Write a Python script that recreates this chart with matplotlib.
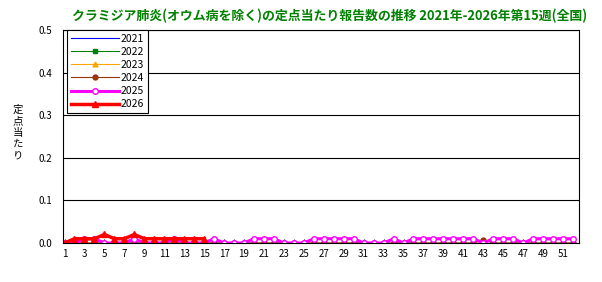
import numpy as np
import matplotlib.pyplot as plt

plt.rcParams['font.family'] = ['Noto Sans CJK JP', 'DejaVu Sans']

weeks = list(range(1, 53))
w2021 = [0.0] * 52
w2022 = [0.0] * 52
w2023 = [0.0] * 52
w2024 = [0.0] * 42 + [0.008] + [0.0] * 9
w2025 = [0, 0, .01, .01, 0, 0, 0, .01, 0, 0, 0, .01, 0, 0, 0, .01, 0, 0, 0, .01,
         .01, .01, 0, 0, 0, .01, .01, .01, .01, .01, 0, 0, 0, .01, 0, .01, .01, .01, .01, .01,
         .01, .01, 0, .01, .01, .01, 0, .01, .01, .01, .01, .01]
w2026 = [0, .01, .01, .01, .02, .01, .01, .02, .01, .01, .01, .01, .01, .01, .01]

fig = plt.figure(figsize=(6.02, 2.82), dpi=100)
ax = fig.add_axes([0.1047, 0.1383, 0.8571, 0.7553])

ax.plot(weeks, w2021, color='#0000FF', lw=0.8, label='2021')
ax.plot(weeks, w2022, color='#008000', lw=0.8, marker='s', ms=3, label='2022')
ax.plot(weeks, w2023, color='#FFA500', lw=0.8, marker='^', ms=3.5, label='2023')
ax.plot(weeks, w2024, color='#993300', lw=0.8, marker='o', ms=3.5, label='2024')
ax.plot(weeks, w2025, color='#FF00FF', lw=2.2, marker='o', ms=4, mfc='white',
        mec='#FF00FF', mew=1, label='2025')
ax.plot(weeks[:len(w2026)], w2026, color='#FF0000', lw=2.5, marker='^', ms=4,
        label='2026')

ax.set_xlim(0.85, 52.6)
ax.set_ylim(0, 0.5)
ax.set_yticks(np.arange(0, 0.51, 0.1))
ax.set_yticklabels(['%.1f' % v for v in np.arange(0, 0.51, 0.1)], fontsize=7)
ax.set_xticks(range(1, 53, 2))
ax.set_xticklabels([str(i) for i in range(1, 53, 2)], fontsize=7)
ax.set_xticks(range(1, 53), minor=True)
ax.tick_params(axis='x', which='both', direction='in', length=3, pad=4)
ax.tick_params(axis='y', length=0, pad=8)
ax.grid(axis='y', color='black', lw=0.8)
for s in ax.spines.values():
    s.set_color('black')
    s.set_linewidth(0.8)

leg = ax.legend(loc='upper left', bbox_to_anchor=(0.008, 1.0), borderaxespad=0,
                fontsize=7.5, frameon=True, fancybox=False, edgecolor='black',
                framealpha=1, handlelength=4.6, labelspacing=0.3, borderpad=0.35,
                handletextpad=0.2)
leg.get_frame().set_linewidth(0.8)

# stacked vertical label
for i, ch in enumerate('定点当たり'):
    fig.text(0.030, 0.61 - i * 0.04, ch, fontsize=7.5, ha='center', va='center')

fig.text(0.548, 0.945, 'クラミジア肺炎(オウム病を除く)の定点当たり報告数の推移 2021年-2026年第15週(全国)',
         color='#008000', fontsize=9.3, fontweight='bold', ha='center', va='center')

fig.savefig('out.png', dpi=100)
